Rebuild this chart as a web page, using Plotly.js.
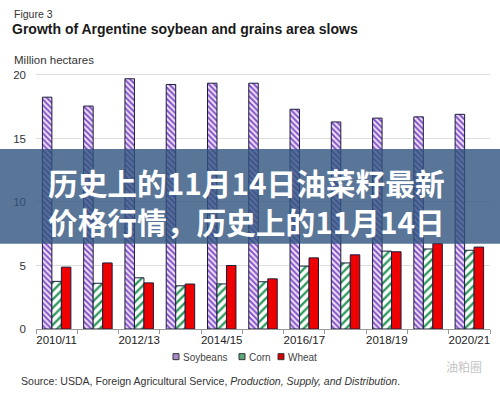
<!DOCTYPE html>
<html>
<head>
<meta charset="utf-8">
<script src="https://cdn.plot.ly/plotly-3.0.1.min.js"></script>
<style>html,body{margin:0;padding:0;background:#fff;}#chart{width:500px;height:394px;}</style>
</head>
<body>
<div id="chart"></div>
<script>
const seasons = ["2010/11","2011/12","2012/13","2013/14","2014/15","2015/16","2016/17","2017/18","2018/19","2019/20","2020/21"];
const tickLabels = ["2010/11","","2012/13","","2014/15","","2016/17","","2018/19","","2020/21"];
const soybeans = [18.25, 17.55, 19.7, 19.25, 19.35, 19.35, 17.3, 16.3, 16.6, 16.7, 16.9];
const corn = [3.75, 3.6, 4.03, 3.4, 3.55, 3.72, 4.95, 5.2, 6.13, 6.3, 6.2];
const wheat = [4.87, 5.2, 3.63, 3.54, 5.0, 3.95, 5.6, 5.84, 6.08, 6.72, 6.45];
const seriesNames = ["Soybeans","Corn","Wheat"];
const overlayLines = ["历史上的11月14日油菜籽最新","价格行情，历史上的11月14日"];

const outline = {color:"#1c1c3c", width:1};
const traces = [
  {type:"bar", name:seriesNames[0], x:seasons, y:soybeans,
   marker:{color:"#e4cff5", line:outline,
     pattern:{shape:"\\", fgcolor:"#7a48c0", bgcolor:"#ecdcf8", size:4, solidity:0.45}}},
  {type:"bar", name:seriesNames[1], x:seasons, y:corn,
   marker:{color:"#ffffff", line:outline,
     pattern:{shape:"/", fgcolor:"#2f9a5c", bgcolor:"#ffffff", size:6, solidity:0.4}}},
  {type:"bar", name:seriesNames[2], x:seasons, y:wheat,
   marker:{color:"#ee0000", line:outline}}
];

const toPx = (px)=> (px-36)/454;
const toPy = (py)=> (329.3-py)/259.3;

// manual legend (small square + label)
const legendItems = [
  {sq:173, tx:181, fill:"#a88cc8", line:"#333"},
  {sq:239, tx:247, fill:"#5aa878", line:"#333"},
  {sq:278, tx:286, fill:"#d80000", line:"#333"}
];
const legendShapes = legendItems.map(it=>({
  type:"rect", xref:"paper", yref:"paper",
  x0:toPx(it.sq), x1:toPx(it.sq+6), y0:toPy(360), y1:toPy(354),
  fillcolor:it.fill, line:{color:it.line, width:1}
}));
const legendAnn = legendItems.map((it,i)=>({
  text:seriesNames[i], xref:"paper", yref:"paper", x:toPx(it.tx), y:toPy(357.5),
  xanchor:"left", yanchor:"middle", showarrow:false, font:{size:10, color:"#444"}
}));

const layout = {
  width:500, height:394,
  margin:{l:36, r:10, t:70, b:64.7},
  paper_bgcolor:"#ffffff", plot_bgcolor:"#ffffff",
  font:{family:"Liberation Sans, Arial, sans-serif", color:"#333"},
  barmode:"group", bargap:0.31, bargroupgap:0,
  showlegend:false,
  title:{text:"<b>Growth of Argentine soybean and grains area slows</b>",
    xref:"container", x:12/500, xanchor:"left",
    yref:"container", y:1-29/394, yanchor:"middle",
    font:{size:14, color:"#1a1a1a", family:"Liberation Sans, Arial, sans-serif"}},
  xaxis:{type:"category", tickvals:seasons, ticktext:tickLabels, tickangle:0,
    tickson:"boundaries", ticks:"outside", ticklen:4, tickcolor:"#999",
    showline:true, linecolor:"#999", linewidth:1,
    showgrid:false, zeroline:false,
    tickfont:{size:11.5, color:"#222"}},
  yaxis:{range:[0,20.39], tickvals:[0,5,10,15,20],
    showgrid:true, gridcolor:"#dedede", gridwidth:1,
    zeroline:false, showline:false, ticks:"",
    ticklabelstandoff:9,
    tickfont:{size:11.5, color:"#333"}},
  shapes:[
    {type:"rect", xref:"paper", yref:"paper", x0:toPx(-5), x1:toPx(505), y0:toPy(244), y1:toPy(149),
     fillcolor:"rgba(48,84,126,0.8)", line:{width:0}, layer:"above"}
  ].concat(legendShapes),
  annotations:[
    {text:"Figure 3", xref:"paper", yref:"paper", x:toPx(12), y:toPy(14), xanchor:"left", yanchor:"middle",
     showarrow:false, font:{size:10.5, color:"#333"}},
    {text:"Million hectares", xref:"paper", yref:"paper", x:toPx(12), y:toPy(60), xanchor:"left", yanchor:"middle",
     showarrow:false, font:{size:11.5, color:"#333"}},
    {text:"Source: USDA, Foreign Agricultural Service, <i>Production, Supply, and Distribution</i>.",
     xref:"paper", yref:"paper", x:toPx(19), y:toPy(381), xanchor:"left", yanchor:"middle",
     showarrow:false, font:{size:10.55, color:"#333"}},
    {text:"油粕圈", xref:"paper", yref:"paper", x:toPx(484), y:toPy(367), xanchor:"right", yanchor:"middle",
     showarrow:false, font:{size:12, color:"#c4c4c4", family:"Noto Sans CJK SC"}},
    {text:overlayLines[0], xref:"paper", yref:"paper", x:toPx(246.5), y:toPy(183), xanchor:"center", yanchor:"middle",
     showarrow:false, font:{size:29.7, color:"#ffffff", family:"Noto Sans CJK SC", weight:"bold"}},
    {text:overlayLines[1], xref:"paper", yref:"paper", x:toPx(246.5), y:toPy(222), xanchor:"center", yanchor:"middle",
     showarrow:false, font:{size:29.7, color:"#ffffff", family:"Noto Sans CJK SC", weight:"bold"}}
  ].concat(legendAnn)
};

Plotly.newPlot("chart", traces, layout, {displayModeBar:false, staticPlot:true});
</script>
</body>
</html>
